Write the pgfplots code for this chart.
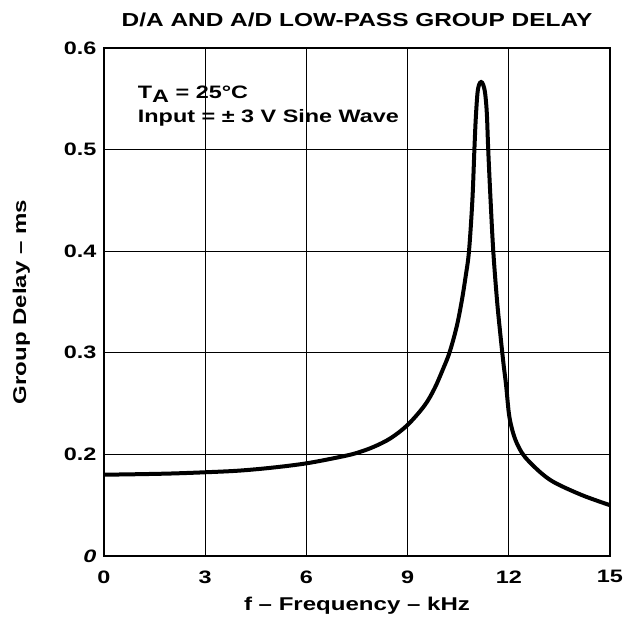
\documentclass[border=0pt]{standalone}
\usepackage{fontspec}
\setmainfont{Liberation Sans}[FakeStretch=1.3]
\usepackage{pgfplots}
\pgfplotsset{compat=1.18}
\begin{document}
\begin{tikzpicture}[x=1pt,y=1pt]
\begin{axis}[
  at={(0,0)}, anchor=south west,
  scale only axis, width=506pt, height=508pt,
  xmin=0, xmax=15, ymin=0.1, ymax=0.6,
  xtick={0,3,6,9,12,15},
  ytick={0.1,0.2,0.3,0.4,0.5,0.6},
  yticklabels={\textit{0},0.2,0.3,0.4,0.5,0.6},
  xticklabels={0,3,6,9,12,15},
  grid=major,
  major grid style={black, line width=1.3pt},
  axis line style={black, line width=2.6pt},
  major tick length=0pt,
  tick label style={font=\fontsize{18}{20}\selectfont\bfseries},
  /pgf/number format/assume math mode=true,
  xticklabel style={yshift=-11pt},
  yticklabel style={xshift=-4pt},
  title={D/A AND A/D LOW-PASS GROUP DELAY},
  title style={font=\fontsize{18.8}{22}\selectfont\bfseries, yshift=12pt},
  xlabel={f -- Frequency -- kHz},
  ylabel={Group Delay -- ms},
  label style={font=\fontsize{18.5}{20}\selectfont\bfseries},
  xlabel style={yshift=-7pt},
  ylabel style={yshift=27pt},
  clip=false,
]
\addplot[black, line width=4pt, smooth, tension=0.55] coordinates {
(0,0.1800) (1,0.1805) (2,0.1812) (3,0.1824) (4,0.1840) (5,0.1870)
(6,0.1912) (7,0.1975) (7.5,0.2015) (8,0.2075) (8.5,0.2160) (9,0.2290)
(9.5,0.2480) (9.8,0.2650) (10.05,0.2840) (10.24,0.3000) (10.45,0.3250)
(10.6,0.3500) (10.72,0.3750) (10.82,0.4000) (10.92,0.4500) (10.98,0.5000)
(11.02,0.5300) (11.07,0.5550) (11.12,0.5640) (11.18,0.5665) (11.24,0.5640)
(11.30,0.5550) (11.35,0.5350) (11.39,0.5000) (11.46,0.4500) (11.54,0.4000)
(11.65,0.3520) (11.75,0.3180) (11.84,0.2900) (11.92,0.2680) (12.0,0.2410)
(12.08,0.2270) (12.2,0.2140) (12.38,0.2020) (12.6,0.1930) (13.0,0.1805)
(13.4,0.1715) (14.2,0.1595) (15,0.1500)
};
\node[anchor=north west, align=left, font=\fontsize{18}{19}\selectfont\bfseries, inner sep=0pt]
  at (axis cs:1.0,0.563) {T\raisebox{-4pt}{A} = 25°C\\[5pt]Input = ± 3 V Sine Wave};
\end{axis}
\pgfresetboundingbox
\path (-104,-67) rectangle (521,556);
\end{tikzpicture}
\end{document}
